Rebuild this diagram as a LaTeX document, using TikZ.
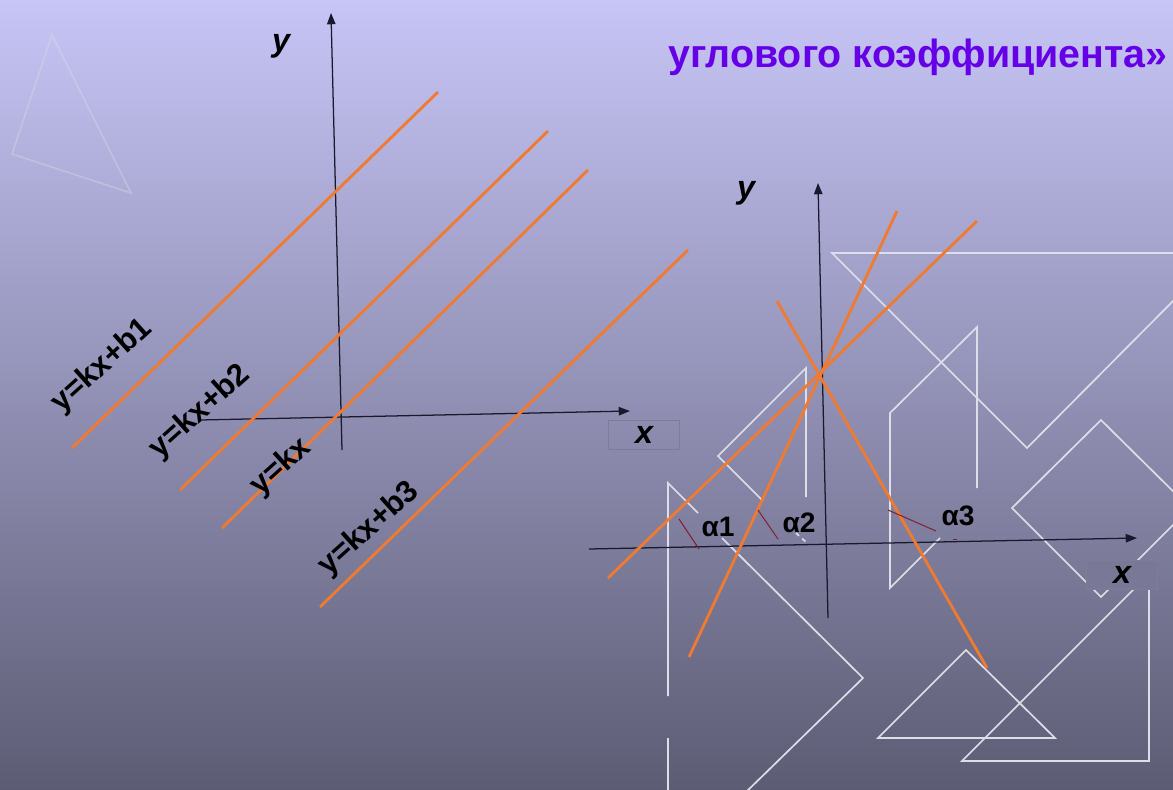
\documentclass[tikz,border=0pt]{standalone}
\usepackage{fontspec}
\setmainfont{Liberation Sans}
\usetikzlibrary{arrows.meta,positioning,calc}
\definecolor{bgtop}{RGB}{199,197,246}
\definecolor{bgbot}{RGB}{92,92,116}
\definecolor{lineorange}{RGB}{240,122,48}
\definecolor{axisdark}{RGB}{25,25,45}
\definecolor{anglered}{RGB}{130,30,50}
\definecolor{titleviolet}{RGB}{102,0,230}
\definecolor{decowhite}{RGB}{222,222,232}
\definecolor{boxline}{RGB}{125,125,150}

\begin{document}
\begin{tikzpicture}[x=0.025cm, y=-0.025cm,
    axis/.style={axisdark, line width=0.9pt, -{Triangle[length=8pt,width=6pt]}},
    graph/.style={lineorange, line width=2pt},
    deco/.style={decowhite, line width=1.2pt},
    anglemark/.style={anglered, line width=0.7pt},
    eqlabel/.style={font=\fontsize{22}{22}\selectfont\bfseries, rotate=42, inner sep=0pt},
    alabel/.style={font=\fontsize{20}{20}\selectfont\bfseries, inner sep=0pt},
    axlabel/.style={font=\fontsize{23}{23}\selectfont\bfseries\itshape, inner sep=0pt},
    xbox/.style={draw=boxline, line width=0.5pt, minimum width=1.77cm, minimum height=0.73cm}]
    % background
    \useasboundingbox (0,0) rectangle (1173,790);
    \fill[top color=bgtop, bottom color=bgbot] (0,0) rectangle (1173,790);

    % decorative shapes
    \draw[deco, opacity=0.35] (52,35) -- (12,154) -- (131,193) -- cycle;
    \draw[deco] (1185,253) -- (832,253) -- (1027,448) -- (1185,289);
    \draw[deco] (977,488) -- (977,327) -- (890,413) -- (890,588) -- (940,538);
    \draw[deco] (1101,420) -- (1012,508) -- (1101,597) -- (1190,508) -- cycle;
    \draw[deco] (962,761) -- (1149,761) -- (1149,574) -- cycle;
    \draw[deco] (966,650) -- (878,738) -- (1055,738) -- cycle;
    \draw[deco] (668,696) -- (668,483) -- (698,513);
    \draw[deco] (722,538) -- (863,678) -- (743,795);
    \draw[deco] (668,738) -- (668,795);
    \draw[deco] (763,501) -- (718,456) -- (806,368) -- (806,497);
    \draw[deco, dashed] (796,533) -- (807,543);

    % title
    \node[font=\fontsize{28}{28}\selectfont\bfseries, text=titleviolet] (title) at (918,57) {углового коэффициента»};

    % left graph: parallel lines
    \coordinate (O1) at (341,412);
    \draw[axis] (200,420) coordinate (x1s) -- (630,411) coordinate (x1e);
    \draw[axis] (342,450) coordinate (y1s) -- (331,13) coordinate (y1e);
    \node[axlabel] (y1) at (281,46) {y};
    \node[xbox] (x1box) at (644,435) {};
    \node[axlabel] (x1) at (x1box) {x};
    \draw[graph] (72,448) coordinate (b1s) -- (438,92) coordinate (b1e);
    \draw[graph] (180,490) coordinate (b2s) -- (548,131) coordinate (b2e);
    \draw[graph] (222,528) coordinate (k0s) -- (588,170) coordinate (k0e);
    \draw[graph] (320,607) coordinate (b3s) -- (688,250) coordinate (b3e);
    \node[eqlabel] (lb1) at (102,366) {y=kx+b1};
    \node[eqlabel] (lb2) at (200,412) {y=kx+b2};
    \node[eqlabel] (lk0) at (281,467) {y=kx};
    \node[eqlabel] (lb3) at (369,529) {y=kx+b3};

    % right graph: lines through one point
    \draw[axis] (589,549) coordinate (x2s) -- (1137,538) coordinate (x2e);
    \draw[axis] (828,618) coordinate (y2s) -- (818,183) coordinate (y2e);
    \node[axlabel] (y2) at (746,193) {y};
    \node[xbox, fill=bgtop!27!bgbot] (x2box) at (1122,575) {};
    \node[axlabel] (x2) at (x2box) {x};
    \draw[graph] (608,578) coordinate (l1s) -- (977,221) coordinate (l1e);
    \draw[graph] (689,657) coordinate (l2s) -- (897,211) coordinate (l2e);
    \draw[graph] (777,301) coordinate (l3s) -- (987,668) coordinate (l3e);
    \draw[anglemark] (679,519) -- (699,549);
    \draw[anglemark] (758,510) -- (778,539);
    \draw[anglemark] (888,510) -- (936,531);
    \draw[anglemark] (953,539) -- (957,539);
    \node[alabel] (a1) at (718,527) {α1};
    \node[alabel] (a2) at (799,523) {α2};
    \node[alabel] (a3) at (958,516) {α3};
\end{tikzpicture}
\end{document}
